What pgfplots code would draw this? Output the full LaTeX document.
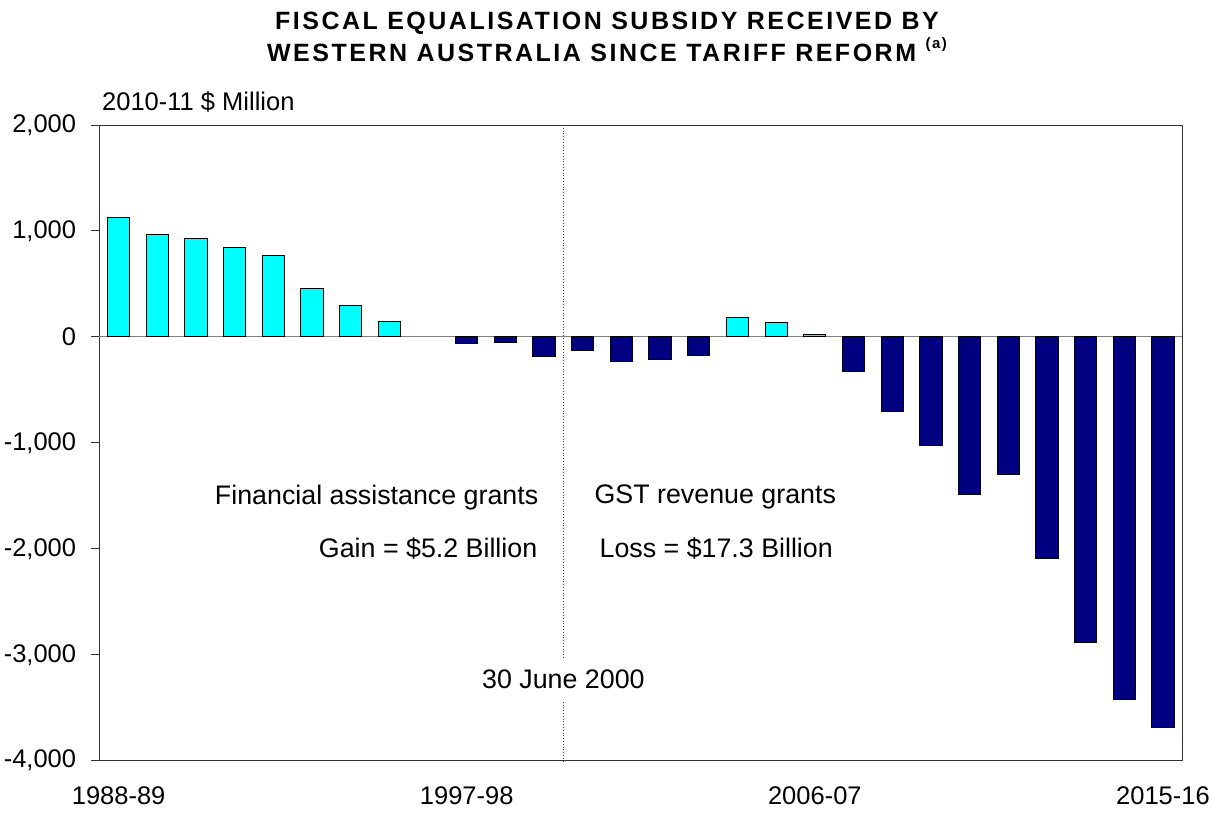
\documentclass[border=0pt]{standalone}
\usepackage{pgfplots}
\pgfplotsset{compat=1.18}
\usepackage{fontspec}
\setmainfont{Liberation Sans}
\newfontfamily\titlefont[LetterSpace=10]{Liberation Sans}
\definecolor{cyanbar}{HTML}{00FFFF}
\definecolor{navybar}{HTML}{000080}
\begin{document}
\begin{tikzpicture}
\path[use as bounding box] (-99.3pt,-51.3pt) rectangle (1113.7pt,760.7pt);
\begin{axis}[
  at={(0pt,0pt)}, anchor=south west,
  scale only axis, width=1083pt, height=635.7pt,
  xmin=-0.5, xmax=27.5, ymin=-4000, ymax=2000,
  ybar, bar width=22.3pt, bar shift=0pt,
  axis line style={black!80, line width=1pt},
  xtick={0,9,18,27},
  xticklabels={1988-89,1997-98,2006-07,2015-16},
  xtick style={draw=none},
  xticklabel style={anchor=north, inner sep=0pt, yshift=-18pt, font=\fontsize{25.5}{28}\selectfont},
  ytick={-4000,-3000,-2000,-1000,0,1000,2000},
  yticklabels={{-4,000},{-3,000},{-2,000},{-1,000},{0},{1,000},{2,000}},
  ytick pos=left, tick align=outside, major tick length=8pt,
  ytick style={black!80, line width=1pt},
  yticklabel style={anchor=east, inner sep=0pt, xshift=-15pt, font=\fontsize{25.5}{28}\selectfont},
  clip=false,
]
\draw[gray, line width=1pt] (axis cs:-0.5,0) -- (axis cs:27.5,0);
\addplot[fill=cyanbar, draw=black, line width=1pt] coordinates {
 (0,1123) (1,965) (2,931) (3,846) (4,764) (5,456) (6,296) (7,148)
 (16,186) (17,135) (18,22)};
\addplot[fill=navybar, draw=black, line width=1pt] coordinates {
 (9,-66) (10,-53) (11,-186) (12,-132) (13,-236) (14,-211) (15,-176)
 (19,-330) (20,-705) (21,-1025) (22,-1487) (23,-1299) (24,-2094)
 (25,-2880) (26,-3424) (27,-3682)};
\draw[dotted, black!75, line width=0.8pt] (axis cs:11.5,2000) -- (axis cs:11.5,-4000);
\node[fill=white, inner xsep=2pt, inner ysep=11pt, font=\fontsize{26.8}{30}\selectfont] at (axis cs:11.5,-3229) {30 June 2000};
\node[anchor=east, inner sep=0pt, xshift=-25pt, font=\fontsize{26.8}{30}\selectfont] at (axis cs:11.5,-1512) {Financial assistance grants};
\node[anchor=east, inner sep=0pt, xshift=-26pt, font=\fontsize{26.8}{30}\selectfont] at (axis cs:11.5,-1993) {Gain = \$5.2 Billion};
\node[anchor=west, inner sep=0pt, xshift=31pt, font=\fontsize{26.8}{30}\selectfont] at (axis cs:11.5,-1512) {GST revenue grants};
\node[anchor=west, inner sep=0pt, xshift=36pt, font=\fontsize{26.8}{30}\selectfont] at (axis cs:11.5,-1993) {Loss = \$17.3 Billion};
\end{axis}
\node[anchor=base west, inner sep=0pt, font=\fontsize{25.5}{28}\selectfont] at (2.7pt,650pt) {2010-11 \$ Million};
\node[anchor=base, inner sep=0pt, font=\titlefont\bfseries\fontsize{25}{28}\selectfont] at (507.7pt,731.5pt) {FISCAL EQUALISATION SUBSIDY RECEIVED BY};
\node[anchor=base, inner sep=0pt, font=\titlefont\bfseries\fontsize{25}{28}\selectfont] at (507.7pt,699.5pt) {WESTERN AUSTRALIA SINCE TARIFF REFORM \raisebox{0.5em}{\fontsize{15}{16}\selectfont (a)}};
\end{tikzpicture}
\end{document}
